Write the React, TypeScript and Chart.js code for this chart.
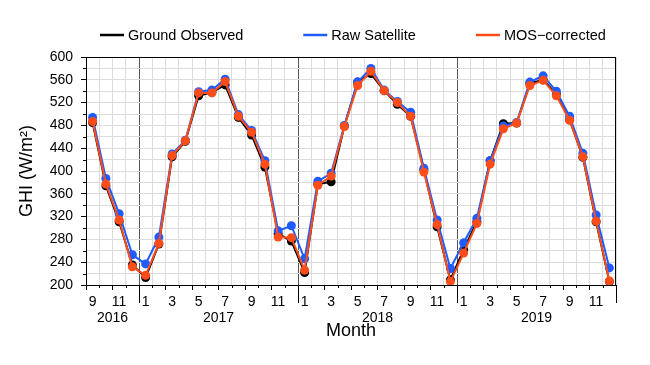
import React, { useEffect, useRef } from 'react';
import { Chart, registerables } from 'chart.js';

Chart.register(...registerables);

const FONT = '"Liberation Sans", Arial, Helvetica, sans-serif';

const categories = [
  '2016-09', '2016-10', '2016-11', '2016-12',
  '2017-01', '2017-02', '2017-03', '2017-04', '2017-05', '2017-06',
  '2017-07', '2017-08', '2017-09', '2017-10', '2017-11', '2017-12',
  '2018-01', '2018-02', '2018-03', '2018-04', '2018-05', '2018-06',
  '2018-07', '2018-08', '2018-09', '2018-10', '2018-11', '2018-12',
  '2019-01', '2019-02', '2019-03', '2019-04', '2019-05', '2019-06',
  '2019-07', '2019-08', '2019-09', '2019-10', '2019-11', '2019-12',
];

const yearLabels = ['2016', '2017', '2018', '2019'];

const groundObserved = [
  485, 374, 311, 235,
  213, 272, 425, 452, 532, 538, 551, 494, 463, 407, 290, 277,
  222, 377, 381, 479, 556, 571, 541, 517, 496, 402, 302, 209,
  262, 311, 418, 483, 484, 554, 560, 535, 490, 424, 311, 206,
];

const rawSatellite = [
  494, 387, 325, 253,
  237, 284, 430, 454, 539, 542, 561, 499, 471, 418, 295, 304,
  246, 382, 396, 480, 556, 580, 542, 522, 503, 405, 314, 229,
  274, 317, 418, 479, 485, 556, 567, 540, 496, 431, 323, 230,
];

const mosCorrected = [
  487, 377, 314, 232,
  217, 273, 427, 453, 537, 537, 557, 496, 468, 412, 284, 283,
  226, 375, 391, 478, 550, 575, 541, 520, 496, 398, 306, 206,
  256, 308, 412, 474, 484, 550, 559, 532, 489, 425, 312, 207,
];

const yMajorTicks = [200, 240, 280, 320, 360, 400, 440, 480, 520, 560, 600];
const yMinorTicks = [220, 260, 300, 340, 380, 420, 460, 500, 540, 580];

const seriesNames = ['Ground Observed', 'Raw Satellite', 'MOS\u2212corrected'];
const seriesColors = ['#000000', '#1f5cff', '#ff4d1a'];

const monthOf = (i: number) => parseInt(categories[i].slice(5), 10);

const yearCenters: Record<string, number> = {};
yearLabels.forEach((yr) => {
  const idx = categories.map((c, i) => (c.startsWith(yr) ? i : -1)).filter((i) => i >= 0);
  yearCenters[String((idx[0] + idx[idx.length - 1]) / 2)] = Number(yr);
});

const xTickValues: number[] = [];
for (let k = -1; k <= categories.length * 2 - 1; k++) xTickValues.push(k / 2);

const isBoundary = (v: number) => Math.abs(v - Math.round(v)) > 0.25;
const isYearBoundary = (v: number) => {
  const k = Math.round(v + 0.5);
  return k >= categories.length || (k > 0 && monthOf(k) === 1);
};

const decorPlugin = {
  id: 'decor',
  afterDraw(chart: any) {
    const { ctx, chartArea: a, scales } = chart;
    const xs = scales.x;
    const ys = scales.y;
    ctx.save();
    ctx.strokeStyle = '#000';
    ctx.lineWidth = 1;
    // frame top & right
    ctx.beginPath();
    ctx.moveTo(a.left, Math.round(a.top) + 0.5);
    ctx.lineTo(a.right, Math.round(a.top) + 0.5);
    ctx.moveTo(Math.round(a.right) - 0.5, a.top);
    ctx.lineTo(Math.round(a.right) - 0.5, a.bottom);
    ctx.stroke();
    // y minor ticks
    ctx.beginPath();
    yMinorTicks.forEach((v) => {
      const py = Math.round(ys.getPixelForValue(v)) + 0.5;
      ctx.moveTo(a.left - 3, py);
      ctx.lineTo(a.left, py);
    });
    ctx.stroke();
    // x minor ticks and long year ticks
    ctx.beginPath();
    xTickValues.forEach((v) => {
      if (!isBoundary(v)) return;
      const px = Math.round(xs.getPixelForValue(v)) + 0.5;
      const k = Math.round(v + 0.5);
      if (isYearBoundary(v)) {
        ctx.moveTo(px, a.bottom);
        ctx.lineTo(px, a.bottom + 18);
      } else if (k >= 0 && monthOf(k) % 2 === 0) {
        ctx.moveTo(px, a.bottom);
        ctx.lineTo(px, a.bottom + 3);
      }
    });
    ctx.stroke();
    // legend
    ctx.font = '14.5px ' + FONT;
    ctx.textBaseline = 'middle';
    ctx.textAlign = 'left';
    let x0 = a.left + 14;
    const ly = 35;
    seriesNames.forEach((name, i) => {
      ctx.strokeStyle = seriesColors[i];
      ctx.lineWidth = 2.5;
      ctx.beginPath();
      ctx.moveTo(x0, ly);
      ctx.lineTo(x0 + 24, ly);
      ctx.stroke();
      ctx.fillStyle = '#000';
      ctx.fillText(name, x0 + 28, ly + 1);
      x0 += 28 + ctx.measureText(name).width + 60;
    });
    ctx.restore();
  },
};

export default function App() {
  const canvasRef = useRef<HTMLCanvasElement | null>(null);

  useEffect(() => {
    document.body.style.margin = '0';
    const canvas = canvasRef.current;
    if (!canvas) return;
    const series = [groundObserved, rawSatellite, mosCorrected];
    const chart = new Chart(canvas, {
      type: 'line',
      data: {
        datasets: series.map((vals, s) => ({
          label: seriesNames[s],
          data: vals.map((v, i) => ({ x: i, y: v })),
          borderColor: seriesColors[s],
          backgroundColor: seriesColors[s],
          pointBackgroundColor: seriesColors[s],
          pointBorderColor: seriesColors[s],
          pointBorderWidth: 0,
          pointRadius: 4.5,
          borderWidth: 2,
          tension: 0,
          fill: false,
          order: 2 - s,
        })),
      },
      options: {
        animation: false,
        responsive: false,
        devicePixelRatio: 1,
        layout: { padding: { left: 0, right: 34, top: 57, bottom: 0 } },
        plugins: { legend: { display: false }, tooltip: { enabled: false }, title: { display: false } },
        scales: {
          x: {
            type: 'linear',
            min: -0.5,
            max: categories.length - 0.5,
            afterBuildTicks: (s: any) => {
              s.ticks = xTickValues.map((v) => ({ value: v }));
            },
            afterFit: (s: any) => {
              s.height = 80;
            },
            ticks: {
              autoSkip: false,
              maxRotation: 0,
              minRotation: 0,
              padding: 4,
              color: '#000',
              font: { family: FONT, size: 14, lineHeight: 1.15 },
              callback: (value: any) => {
                const v = Number(value);
                if (isBoundary(v)) {
                  const yr = yearCenters[String(v)];
                  return yr ? ['', String(yr)] : '';
                }
                const m = monthOf(Math.round(v));
                return m % 2 === 1 ? String(m) : '';
              },
            },
            grid: {
              lineWidth: 1,
              tickLength: 5,
              color: (ctx: any) => {
                const v = ctx.tick ? ctx.tick.value : 0;
                if (!isBoundary(v)) return 'rgba(0,0,0,0)';
                return isYearBoundary(v) && v < categories.length - 1 ? '#555555' : '#dcdcdc';
              },
              tickColor: (ctx: any) => {
                const v = ctx.tick ? ctx.tick.value : 0;
                if (!isBoundary(v) || isYearBoundary(v)) return 'rgba(0,0,0,0)';
                const k = Math.round(v + 0.5);
                return monthOf(k) % 2 === 1 ? '#000' : 'rgba(0,0,0,0)';
              },
            },
            border: { color: '#000', width: 1 },
            title: {
              display: true,
              text: 'Month',
              color: '#000',
              font: { family: FONT, size: 18 },
              padding: { top: 0, bottom: 23 },
            },
          },
          y: {
            min: 200,
            max: 600,
            afterBuildTicks: (s: any) => {
              s.ticks = [...yMajorTicks, ...yMinorTicks].sort((p, q) => p - q).map((v) => ({ value: v }));
            },
            afterFit: (s: any) => {
              s.width = 86;
            },
            ticks: {
              autoSkip: false,
              padding: 8,
              color: '#000',
              font: { family: FONT, size: 14 },
              callback: (value: any) => (yMajorTicks.includes(Number(value)) ? String(value) : ''),
            },
            grid: {
              color: '#dcdcdc',
              lineWidth: 1,
              tickLength: 5,
              tickColor: (ctx: any) =>
                ctx.tick && yMajorTicks.includes(ctx.tick.value) ? '#000' : 'rgba(0,0,0,0)',
            },
            border: { color: '#000', width: 1 },
            title: {
              display: true,
              text: 'GHI (W/m\u00b2)',
              color: '#000',
              font: { family: FONT, size: 18 },
              padding: { top: 16, bottom: 0 },
            },
          },
        },
      },
      plugins: [decorPlugin],
    } as any);
    return () => chart.destroy();
  }, []);

  return (
    <div style={{ position: 'fixed', left: 0, top: 0, width: 650, height: 365, background: '#fff' }}>
      <canvas ref={canvasRef} width={650} height={365} style={{ display: 'block' }} />
    </div>
  );
}
